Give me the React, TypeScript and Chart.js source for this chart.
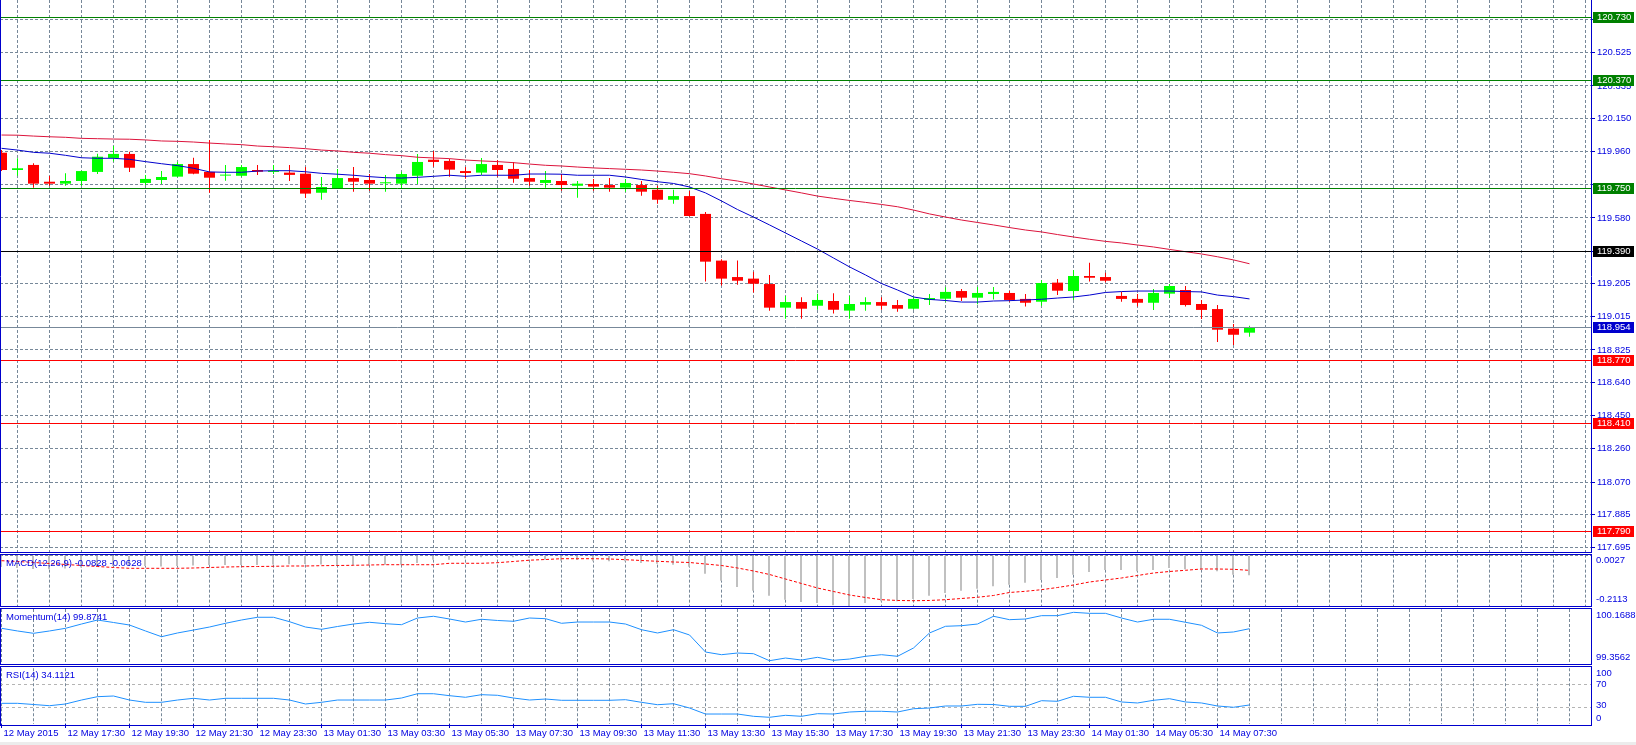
import { useEffect, useRef } from 'react';
import { Chart, registerables } from 'chart.js';

Chart.register(...registerables);

// ---------------- data ----------------
const timeLabels = [
  '12 May 2015', '12 May 17:30', '12 May 19:30', '12 May 21:30', '12 May 23:30',
  '13 May 01:30', '13 May 03:30', '13 May 05:30', '13 May 07:30', '13 May 09:30',
  '13 May 11:30', '13 May 13:30', '13 May 15:30', '13 May 17:30', '13 May 19:30',
  '13 May 21:30', '13 May 23:30', '14 May 01:30', '14 May 05:30', '14 May 07:30',
];
const timeLabelBars = [0, 4, 8, 12, 16, 20, 24, 28, 32, 36, 40, 44, 48, 52, 56, 60, 64, 68, 72, 76];

const opens = [
  119.953, 119.854, 119.883, 119.787, 119.776, 119.791, 119.843, 119.923, 119.946, 119.780,
  119.797, 119.816, 119.888, 119.843, 119.822, 119.821, 119.854, 119.843, 119.839, 119.833,
  119.724, 119.751, 119.808, 119.797, 119.778, 119.776, 119.821, 119.913, 119.906, 119.848,
  119.839, 119.883, 119.860, 119.808, 119.780, 119.791, 119.764, 119.774, 119.768, 119.753,
  119.768, 119.741, 119.684, 119.705, 119.603, 119.336, 119.242, 119.233, 119.202, 119.067,
  119.099, 119.078, 119.105, 119.050, 119.084, 119.099, 119.082, 119.061, 119.111, 119.118,
  119.162, 119.124, 119.145, 119.151, 119.117, 119.101, 119.210, 119.162, 119.248, 119.242,
  119.134, 119.117, 119.095, 119.147, 119.168, 119.088, 119.059, 118.947, 118.924,
];
const highs = [
  119.968, 119.921, 119.892, 119.820, 119.835, 119.850, 119.947, 119.991, 119.959, 119.826,
  119.848, 119.900, 119.924, 120.026, 119.883, 119.883, 119.883, 119.883, 119.883, 119.871,
  119.814, 119.860, 119.871, 119.831, 119.826, 119.844, 119.946, 119.963, 119.919, 119.871,
  119.923, 119.911, 119.900, 119.854, 119.848, 119.831, 119.791, 119.803, 119.808, 119.803,
  119.791, 119.764, 119.741, 119.734, 119.614, 119.344, 119.336, 119.273, 119.254, 119.134,
  119.126, 119.147, 119.149, 119.134, 119.126, 119.126, 119.111, 119.126, 119.145, 119.183,
  119.174, 119.185, 119.185, 119.162, 119.145, 119.225, 119.231, 119.282, 119.324, 119.267,
  119.158, 119.145, 119.174, 119.202, 119.191, 119.111, 119.082, 118.974, 118.963,
];
const lows = [
  119.848, 119.821, 119.753, 119.764, 119.764, 119.764, 119.831, 119.902, 119.843, 119.768,
  119.774, 119.812, 119.830, 119.724, 119.793, 119.816, 119.826, 119.831, 119.791, 119.694,
  119.684, 119.748, 119.730, 119.736, 119.730, 119.745, 119.774, 119.873, 119.816, 119.804,
  119.826, 119.816, 119.781, 119.764, 119.753, 119.736, 119.696, 119.736, 119.730, 119.730,
  119.707, 119.661, 119.661, 119.588, 119.216, 119.193, 119.198, 119.153, 119.050, 119.004,
  119.004, 119.055, 119.033, 119.004, 119.050, 119.055, 119.044, 119.055, 119.082, 119.101,
  119.105, 119.086, 119.113, 119.101, 119.073, 119.078, 119.139, 119.111, 119.216, 119.212,
  119.101, 119.073, 119.054, 119.122, 119.073, 119.002, 118.871, 118.854, 118.901,
];
const closes = [
  119.854, 119.864, 119.776, 119.776, 119.791, 119.848, 119.930, 119.946, 119.867, 119.803,
  119.814, 119.888, 119.833, 119.810, 119.826, 119.871, 119.844, 119.850, 119.826, 119.719,
  119.757, 119.808, 119.787, 119.776, 119.784, 119.831, 119.900, 119.900, 119.856, 119.837,
  119.888, 119.854, 119.804, 119.787, 119.797, 119.768, 119.776, 119.759, 119.753, 119.780,
  119.730, 119.684, 119.705, 119.591, 119.330, 119.233, 119.221, 119.204, 119.067, 119.099,
  119.061, 119.111, 119.055, 119.088, 119.099, 119.078, 119.061, 119.117, 119.122, 119.157,
  119.124, 119.151, 119.157, 119.111, 119.095, 119.208, 119.164, 119.248, 119.238, 119.221,
  119.117, 119.095, 119.151, 119.191, 119.082, 119.054, 118.941, 118.912, 118.954,
];
const fastMA = [
  119.978, 119.968, 119.955, 119.950, 119.938, 119.924, 119.921, 119.921, 119.915, 119.902,
  119.890, 119.879, 119.864, 119.843, 119.841, 119.841, 119.848, 119.850, 119.850, 119.844,
  119.835, 119.830, 119.824, 119.816, 119.810, 119.808, 119.812, 119.818, 119.824, 119.818,
  119.824, 119.824, 119.824, 119.831, 119.831, 119.830, 119.824, 119.824, 119.824, 119.814,
  119.800, 119.787, 119.777, 119.757, 119.723, 119.677, 119.628, 119.585, 119.540, 119.494,
  119.448, 119.402, 119.351, 119.300, 119.254, 119.205, 119.168, 119.128, 119.114, 119.108,
  119.099, 119.099, 119.105, 119.107, 119.111, 119.115, 119.122, 119.128, 119.139, 119.154,
  119.159, 119.162, 119.162, 119.162, 119.159, 119.157, 119.139, 119.130, 119.117,
];
const slowMA = [
  120.054, 120.053, 120.048, 120.044, 120.041, 120.035, 120.033, 120.031, 120.030, 120.026,
  120.020, 120.018, 120.014, 120.008, 120.003, 119.999, 119.991, 119.987, 119.982, 119.976,
  119.968, 119.963, 119.955, 119.950, 119.942, 119.936, 119.927, 119.923, 119.919, 119.911,
  119.906, 119.902, 119.896, 119.888, 119.881, 119.877, 119.871, 119.866, 119.862, 119.858,
  119.854, 119.848, 119.841, 119.833, 119.820, 119.804, 119.791, 119.774, 119.757, 119.740,
  119.723, 119.705, 119.692, 119.680, 119.669, 119.657, 119.644, 119.625, 119.603, 119.585,
  119.568, 119.554, 119.540, 119.525, 119.511, 119.500, 119.485, 119.471, 119.458, 119.446,
  119.437, 119.425, 119.414, 119.400, 119.387, 119.374, 119.358, 119.340, 119.318,
];
const macdMain = [
  -0.0488, -0.0529, -0.0571, -0.0583, -0.0550, -0.0508, -0.0488, -0.0446, -0.0446, -0.0446,
  -0.0467, -0.0446, -0.0425, -0.0404, -0.0404, -0.0404, -0.0404, -0.0383, -0.0375, -0.0363,
  -0.0383, -0.0404, -0.0404, -0.0383, -0.0392, -0.0392, -0.0321, -0.0183, -0.0183, -0.0125,
  -0.0083, -0.0071, -0.0083, -0.0113, -0.0183, -0.0225, -0.0200, -0.0250, -0.0250, -0.0250,
  -0.0321, -0.0350, -0.0392, -0.0475, -0.0767, -0.1058, -0.1321, -0.1475, -0.1683, -0.1850,
  -0.1946, -0.1988, -0.2080, -0.2113, -0.1988, -0.1917, -0.1917, -0.1821, -0.1683, -0.1571,
  -0.1475, -0.1392, -0.1292, -0.1225, -0.1142, -0.1029, -0.0946, -0.0808, -0.0696, -0.0613,
  -0.0613, -0.0667, -0.0613, -0.0529, -0.0583, -0.0583, -0.0667, -0.0808, -0.0828,
];
const macdSignal = [
  -0.0225, -0.0258, -0.0300, -0.0342, -0.0383, -0.0425, -0.0467, -0.0508, -0.0542, -0.0542,
  -0.0542, -0.0542, -0.0529, -0.0508, -0.0488, -0.0475, -0.0467, -0.0458, -0.0446, -0.0446,
  -0.0433, -0.0425, -0.0417, -0.0404, -0.0392, -0.0392, -0.0392, -0.0392, -0.0333, -0.0333,
  -0.0333, -0.0308, -0.0258, -0.0204, -0.0175, -0.0142, -0.0142, -0.0142, -0.0154, -0.0183,
  -0.0217, -0.0250, -0.0279, -0.0300, -0.0363, -0.0425, -0.0529, -0.0654, -0.0800, -0.0988,
  -0.1175, -0.1363, -0.1508, -0.1654, -0.1758, -0.1850, -0.1883, -0.1892, -0.1883, -0.1850,
  -0.1800, -0.1750, -0.1675, -0.1550, -0.1500, -0.1433, -0.1342, -0.1238, -0.1113, -0.1029,
  -0.0946, -0.0842, -0.0738, -0.0675, -0.0625, -0.0571, -0.0571, -0.0583, -0.0628,
];
const momentum = [
  99.880, 99.840, 99.805, 99.840, 99.880, 99.944, 100.004, 99.967, 99.929, 99.840,
  99.754, 99.810, 99.854, 99.899, 99.955, 100.004, 100.045, 100.045, 99.979, 99.899,
  99.865, 99.907, 99.944, 99.970, 99.949, 99.934, 100.034, 100.060, 100.019, 99.974,
  100.015, 99.997, 99.985, 100.034, 100.024, 99.955, 99.974, 99.974, 99.974, 99.944,
  99.859, 99.810, 99.859, 99.780, 99.525, 99.485, 99.510, 99.500, 99.395, 99.435,
  99.405, 99.446, 99.401, 99.420, 99.461, 99.485, 99.461, 99.585, 99.810, 99.910,
  99.919, 99.944, 100.060, 100.009, 100.019, 100.069, 100.069, 100.119, 100.104, 100.104,
  100.034, 99.974, 100.015, 100.015, 99.970, 99.925, 99.810, 99.825, 99.8741,
];
const rsi = [
  37.1, 37.1, 35.0, 32.8, 35.9, 43.0, 49.0, 50.2, 43.0, 38.9,
  38.9, 43.0, 46.1, 43.0, 46.1, 46.1, 46.1, 46.1, 43.0, 35.9,
  38.9, 43.0, 43.0, 43.0, 43.0, 46.6, 54.3, 54.3, 50.8, 47.9,
  52.6, 51.5, 46.6, 43.0, 44.8, 42.5, 42.5, 42.5, 42.5, 43.6,
  38.9, 34.6, 36.4, 28.7, 17.9, 17.9, 17.9, 13.8, 12.0, 15.6,
  13.8, 18.5, 17.9, 21.5, 22.8, 22.8, 21.5, 27.4, 28.7, 32.3,
  32.3, 35.3, 35.0, 31.7, 31.7, 41.8, 40.7, 49.7, 47.9, 47.9,
  39.5, 37.7, 42.5, 45.4, 39.5, 37.7, 32.3, 30.0, 34.1121,
];
const priceTicks = [
  120.715, 120.525, 120.335, 120.150, 119.960, 119.770, 119.580, 119.390, 119.205,
  119.015, 118.825, 118.640, 118.450, 118.260, 118.070, 117.885, 117.695,
];
const priceRange = [117.670, 120.826];
const levelPrices = [120.730, 120.370, 119.750, 119.390, 118.954, 118.770, 118.410, 117.790];
const levelKinds = ['green', 'green', 'green', 'black', 'bid', 'red', 'red', 'red'];
const macdRange = [-0.2113, 0.0027];
const momentumRange = [99.3562, 100.1688];
const rsiRange = [0, 100];
const rsiLevels = [70, 30];

// ---------------- styles / layout ----------------
const W = 1636;
const PLOT_RIGHT = 1591;
const BAR_PX = 16;
const X_MIN = -1.5 / BAR_PX;
const X_MAX = X_MIN + PLOT_RIGHT / BAR_PX;
const FAMILY = '"Liberation Sans", Arial, sans-serif';
const FONT = { family: FAMILY, size: 9.5 };
const FONT_CSS = `9.5px ${FAMILY}`;
const TEXT = '#0000E0';
const FRAME = '#0000CD';
const GRID = '#778899';
const BULL = '#00FF00';
const BEAR = '#FF0000';
const FAST_MA = '#0000CD';
const SLOW_MA = '#DC143C';
const IND_LINE = '#1E90FF';
const LEVEL_STYLE: any = {
  green: { line: '#008000', box: '#008000', text: '#FFFFFF' },
  black: { line: '#000000', box: '#000000', text: '#FFFFFF' },
  bid: { line: '#778899', box: '#0000CD', text: '#FFFFFF' },
  red: { line: '#FF0000', box: '#FF0000', text: '#FFFFFF' },
};

const PANELS: any = {
  main: { top: 0, height: 553, pad: [0, 1], frameTop: null, frameBottom: 552 },
  macd: { top: 554, height: 53, pad: [0.65, 1], frameTop: 0, frameBottom: 52 },
  mom: { top: 608, height: 57, pad: [1, 1.7], frameTop: 0, frameBottom: 56 },
  rsi: { top: 666, height: 79, pad: [2.25, 1], frameTop: 0, frameBottom: 59 },
};

const killPadding = (s: any) => {
  s.paddingTop = 0; s.paddingBottom = 0; s.paddingLeft = 0; s.paddingRight = 0;
};

function makeX(withLabels: boolean) {
  return {
    type: 'linear', min: X_MIN, max: X_MAX, offset: false,
    afterBuildTicks: (s: any) => {
      const t: any[] = [];
      for (let v = 0; v <= X_MAX; v += 2) t.push({ value: v });
      s.ticks = t;
    },
    afterFit: (s: any) => { s.height = withLabels ? 20 : 0; killPadding(s); },
    grid: {
      color: GRID, lineWidth: 1, drawOnChartArea: true, drawTicks: withLabels,
      tickLength: 4, tickWidth: 1, tickBorderDash: [],
      tickColor: (c: any) => (c.tick && timeLabelBars.includes(c.tick.value) ? FRAME : 'rgba(0,0,0,0)'),
    },
    border: { display: false, dash: [3, 2] },
    ticks: {
      display: withLabels, autoSkip: false, maxRotation: 0, minRotation: 0,
      align: 'start', labelOffset: 2, padding: 0, color: TEXT, font: FONT,
      callback: (v: number) => {
        const i = timeLabelBars.indexOf(v);
        return i >= 0 ? timeLabels[i] : '';
      },
    },
  };
}

const hiddenPriceLabel = (v: number) => levelPrices.some((l) => Math.abs(l - v) < 0.03);

function makeYMain() {
  return {
    type: 'linear', position: 'right', min: priceRange[0], max: priceRange[1],
    afterBuildTicks: (s: any) => { s.ticks = priceTicks.map((value) => ({ value })); },
    afterFit: (s: any) => { s.width = W - PLOT_RIGHT; killPadding(s); },
    grid: { color: GRID, lineWidth: 1, drawTicks: true, tickLength: 4, tickColor: FRAME, tickWidth: 1, tickBorderDash: [] },
    border: { display: false, dash: [3, 2] },
    ticks: {
      autoSkip: false, color: TEXT, font: FONT, padding: 2,
      callback: (v: number) => (hiddenPriceLabel(v) ? '' : Number(v).toFixed(3)),
    },
  };
}

function makeYSub(range: number[], gridValues: number[], gridColor: string, dash: number[]) {
  return {
    type: 'linear', position: 'right', min: range[0], max: range[1],
    afterBuildTicks: (s: any) => { s.ticks = gridValues.map((value) => ({ value })); },
    afterFit: (s: any) => { s.width = W - PLOT_RIGHT; killPadding(s); },
    grid: { color: gridColor, lineWidth: 1, drawTicks: false },
    border: { display: false, dash },
    ticks: { display: false },
  };
}

function panelPlugin(id: string, p: any, legend: string | null, sideLabels: (c: any) => any[]) {
  return {
    id,
    afterDraw(chart: any) {
      const ctx = chart.ctx;
      ctx.save();
      ctx.setLineDash([]);
      ctx.strokeStyle = FRAME;
      ctx.lineWidth = 1;
      const top = p.frameTop === null ? 0 : p.frameTop;
      const bot = p.frameBottom;
      ctx.beginPath();
      ctx.moveTo(0.5, top); ctx.lineTo(0.5, bot + 1);
      ctx.moveTo(PLOT_RIGHT + 0.5, top); ctx.lineTo(PLOT_RIGHT + 0.5, bot + 1);
      if (p.frameTop !== null) { ctx.moveTo(0, top + 0.5); ctx.lineTo(PLOT_RIGHT + 1, top + 0.5); }
      ctx.moveTo(0, bot + 0.5); ctx.lineTo(PLOT_RIGHT + 1, bot + 0.5);
      ctx.stroke();
      ctx.font = FONT_CSS;
      ctx.fillStyle = TEXT;
      ctx.textBaseline = 'middle';
      ctx.textAlign = 'left';
      if (legend) ctx.fillText(legend, 6, top + 9);
      sideLabels(chart).forEach((l) => ctx.fillText(l.text, PLOT_RIGHT + 5, l.y));
      ctx.restore();
    },
  };
}

const levelPlugin = {
  id: 'levels',
  afterDatasetsDraw(chart: any) {
    const { ctx, chartArea, scales } = chart;
    ctx.save();
    ctx.setLineDash([]);
    ctx.lineWidth = 1;
    levelPrices.forEach((v, i) => {
      const st = LEVEL_STYLE[levelKinds[i]];
      const y = Math.round(scales.y.getPixelForValue(v)) + 0.5;
      ctx.strokeStyle = st.line;
      ctx.beginPath();
      ctx.moveTo(chartArea.left, y);
      ctx.lineTo(chartArea.right, y);
      ctx.stroke();
    });
    ctx.restore();
  },
  afterDraw(chart: any) {
    const { ctx, scales } = chart;
    ctx.save();
    ctx.font = FONT_CSS;
    ctx.textBaseline = 'middle';
    ctx.textAlign = 'left';
    levelPrices.forEach((v, i) => {
      const st = LEVEL_STYLE[levelKinds[i]];
      const row = Math.round(scales.y.getPixelForValue(v));
      ctx.fillStyle = st.box;
      ctx.fillRect(PLOT_RIGHT + 2, row - 5, 41, 11);
      ctx.fillStyle = st.text;
      ctx.fillText(v.toFixed(3), PLOT_RIGHT + 6, row + 0.5);
    });
    ctx.restore();
  },
};

function baseOptions(pad: number[], scales: any) {
  return {
    responsive: false,
    maintainAspectRatio: false,
    animation: false,
    devicePixelRatio: 1,
    events: [],
    layout: { padding: { top: pad[0], bottom: pad[1], left: 0, right: 0 } },
    plugins: { legend: { display: false }, tooltip: { enabled: false }, title: { display: false } },
    scales,
  };
}

export default function App() {
  const mainRef = useRef<HTMLCanvasElement>(null);
  const macdRef = useRef<HTMLCanvasElement>(null);
  const momRef = useRef<HTMLCanvasElement>(null);
  const rsiRef = useRef<HTMLCanvasElement>(null);

  useEffect(() => {
    const charts: Chart[] = [];
    const last = closes.length - 1;
    const candleColors = opens.map((o, k) => (closes[k] >= o ? BULL : BEAR));

    charts.push(new Chart(mainRef.current as HTMLCanvasElement, {
      type: 'bar',
      data: {
        datasets: [
          { type: 'line', label: 'MA slow', data: slowMA.map((y, k) => ({ x: k, y })), borderColor: SLOW_MA, borderWidth: 1, pointRadius: 0, tension: 0 },
          { type: 'line', label: 'MA fast', data: fastMA.map((y, k) => ({ x: k, y })), borderColor: FAST_MA, borderWidth: 1, pointRadius: 0, tension: 0 },
          { type: 'bar', label: 'body', data: opens.map((o, k) => ({ x: k, y: [o, closes[k]] })), backgroundColor: candleColors, barThickness: 11, minBarLength: 1, grouped: false, inflateAmount: 0, borderWidth: 0 },
          { type: 'bar', label: 'wick', data: lows.map((l, k) => ({ x: k, y: [l, highs[k]] })), backgroundColor: candleColors, barThickness: 1, minBarLength: 1, grouped: false, inflateAmount: 0, borderWidth: 0 },
        ],
      } as any,
      options: baseOptions(PANELS.main.pad, { x: makeX(false), y: makeYMain() }) as any,
      plugins: [levelPlugin, panelPlugin('frameMain', PANELS.main, null, () => [])],
    }));

    charts.push(new Chart(macdRef.current as HTMLCanvasElement, {
      type: 'bar',
      data: {
        datasets: [
          { type: 'line', label: 'Signal', data: macdSignal.map((y, k) => ({ x: k, y })), borderColor: '#FF0000', borderWidth: 1, borderDash: [3, 2], pointRadius: 0, tension: 0 },
          { type: 'bar', label: 'MACD', data: macdMain.map((y, k) => ({ x: k - 1 / 32, y })), backgroundColor: '#C0C0C0', barThickness: 2, grouped: false, inflateAmount: 0, borderWidth: 0 },
        ],
      } as any,
      options: baseOptions(PANELS.macd.pad, { x: makeX(false), y: makeYSub(macdRange, [0], GRID, [3, 2]) }) as any,
      plugins: [panelPlugin('frameMacd', PANELS.macd,
        `MACD(12,26,9) ${macdMain[last].toFixed(4)} ${macdSignal[last].toFixed(4)}`,
        (c: any) => [
          { text: macdRange[1].toFixed(4), y: c.chartArea.top + 5.4 },
          { text: macdRange[0].toFixed(4), y: c.chartArea.bottom - 6.7 },
        ])],
    }));

    charts.push(new Chart(momRef.current as HTMLCanvasElement, {
      type: 'line',
      data: {
        datasets: [
          { label: 'Momentum', data: momentum.map((y, k) => ({ x: k, y })), borderColor: IND_LINE, borderWidth: 1, pointRadius: 0, tension: 0 },
        ],
      } as any,
      options: baseOptions(PANELS.mom.pad, { x: makeX(false), y: makeYSub(momentumRange, [], GRID, [3, 2]) }) as any,
      plugins: [panelPlugin('frameMom', PANELS.mom,
        `Momentum(14) ${momentum[last].toFixed(4)}`,
        (c: any) => [
          { text: momentumRange[1].toFixed(4), y: c.chartArea.top + 6 },
          { text: momentumRange[0].toFixed(4), y: c.chartArea.bottom - 6 },
        ])],
    }));

    charts.push(new Chart(rsiRef.current as HTMLCanvasElement, {
      type: 'line',
      data: {
        datasets: [
          { label: 'RSI', data: rsi.map((y, k) => ({ x: k, y })), borderColor: IND_LINE, borderWidth: 1, pointRadius: 0, tension: 0 },
        ],
      } as any,
      options: baseOptions(PANELS.rsi.pad, { x: makeX(true), y: makeYSub(rsiRange, rsiLevels, '#B4B4B4', [3, 3]) }) as any,
      plugins: [panelPlugin('frameRsi', PANELS.rsi,
        `RSI(14) ${rsi[last].toFixed(4)}`,
        (c: any) => [
          { text: String(rsiRange[1]), y: c.chartArea.top + 5 },
          { text: String(rsiLevels[0]), y: c.scales.y.getPixelForValue(rsiLevels[0]) - 0.7 },
          { text: String(rsiLevels[1]), y: c.scales.y.getPixelForValue(rsiLevels[1]) - 1.6 },
          { text: String(rsiRange[0]), y: c.chartArea.bottom - 5.7 },
        ])],
    }));

    return () => { charts.forEach((c) => c.destroy()); };
  }, []);

  const canvasStyle = (p: any) => ({ position: 'absolute' as const, left: 0, top: p.top, width: W, height: p.height });

  return (
    <div style={{ position: 'fixed', left: 0, top: 0, width: W, height: 745, background: '#FFFFFF', overflow: 'hidden' }}>
      <div style={{ position: 'absolute', left: 0, top: 742, width: W, height: 3, background: '#ECECEC' }} />
      <canvas ref={mainRef} width={W} height={PANELS.main.height} style={canvasStyle(PANELS.main)} />
      <canvas ref={macdRef} width={W} height={PANELS.macd.height} style={canvasStyle(PANELS.macd)} />
      <canvas ref={momRef} width={W} height={PANELS.mom.height} style={canvasStyle(PANELS.mom)} />
      <canvas ref={rsiRef} width={W} height={PANELS.rsi.height} style={canvasStyle(PANELS.rsi)} />
    </div>
  );
}
